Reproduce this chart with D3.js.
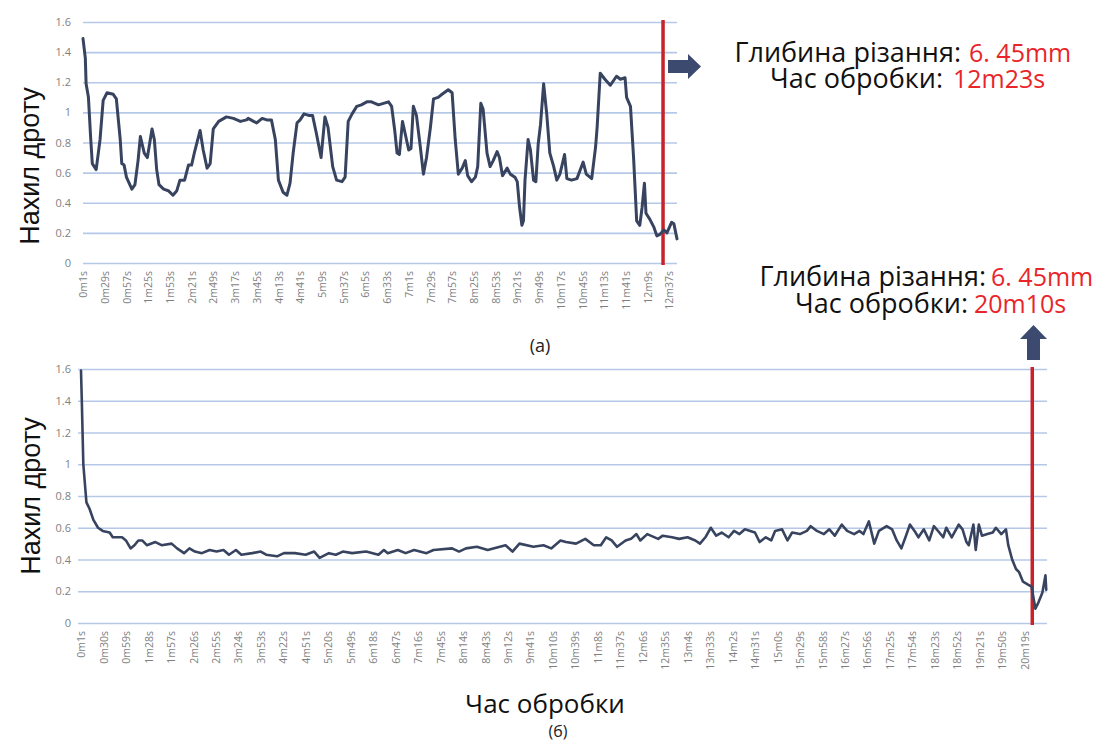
<!DOCTYPE html>
<html><head><meta charset="utf-8">
<script src="https://cdn.jsdelivr.net/npm/d3@7"></script>
<style>body{margin:0;background:#fff}svg{display:block}text{font-family:"Open Sans",sans-serif}</style>
</head><body>
<svg id="c" width="1093" height="743"></svg>
<script>
// ---------- DATA ----------
const yTickValues = [0, 0.2, 0.4, 0.6, 0.8, 1, 1.2, 1.4, 1.6];

const topTickLabels = ["0m1s","0m29s","0m57s","1m25s","1m53s","2m21s","2m49s","3m17s","3m45s","4m13s","4m41s","5m9s","5m37s","6m5s","6m33s","7m1s","7m29s","7m57s","8m25s","8m53s","9m21s","9m49s","10m17s","10m45s","11m13s","11m41s","12m9s","12m37s"];
// time in seconds, wire inclination
const topTime = [1,4,5,8,11,13,18,23,27,32,40,44,49,51,54,57,64,68,72,75,80,84,90,93,96,99,105,111,117,122,126,132,137,141,145,152,156,161,165,169,176,186,195,204,212,214,221,225,232,238,244,249,253,259,264,268,272,277,281,286,292,297,302,308,313,317,323,328,335,339,343,348,354,360,367,373,382,395,399,403,406,409,413,416,421,424,427,431,436,440,444,449,453,459,464,472,477,481,485,490,494,497,502,507,510,514,517,522,526,530,535,538,542,548,552,558,561,564,567,569,571,575,578,582,585,588,591,595,599,603,608,612,616,622,625,631,638,646,650,657,662,664,668,674,681,689,694,700,702,707,711,715,719,722,725,727,732,737,741,745,750,754,760,763,767];
const topSlope = [1.49,1.36,1.19,1.10,0.82,0.66,0.62,0.82,1.08,1.13,1.12,1.09,0.82,0.66,0.65,0.57,0.49,0.52,0.68,0.84,0.73,0.70,0.89,0.82,0.62,0.52,0.49,0.48,0.45,0.48,0.55,0.55,0.65,0.65,0.74,0.88,0.75,0.63,0.66,0.89,0.94,0.97,0.96,0.94,0.95,0.96,0.94,0.93,0.96,0.95,0.95,0.82,0.55,0.47,0.45,0.53,0.73,0.93,0.95,0.99,0.98,0.98,0.86,0.70,0.97,0.90,0.64,0.55,0.54,0.57,0.94,0.99,1.04,1.05,1.07,1.07,1.05,1.07,1.04,0.88,0.73,0.72,0.94,0.87,0.75,0.76,1.04,0.98,0.77,0.59,0.70,0.90,1.09,1.10,1.12,1.15,1.13,0.82,0.59,0.63,0.68,0.58,0.54,0.57,0.64,1.06,1.02,0.73,0.64,0.68,0.74,0.70,0.58,0.63,0.59,0.57,0.54,0.37,0.25,0.28,0.55,0.82,0.75,0.55,0.54,0.79,0.92,1.19,0.99,0.73,0.64,0.55,0.59,0.72,0.56,0.55,0.56,0.67,0.59,0.56,0.77,0.90,1.26,1.22,1.18,1.24,1.22,1.23,1.10,1.04,0.70,0.28,0.25,0.37,0.53,0.33,0.29,0.24,0.18,0.19,0.22,0.20,0.27,0.26,0.16];
const topMarkerTime = 749;

const botTickLabels = ["0m1s","0m30s","0m59s","1m28s","1m57s","2m26s","2m55s","3m24s","3m53s","4m22s","4m51s","5m20s","5m49s","6m18s","6m47s","7m16s","7m45s","8m14s","8m43s","9m12s","9m41s","10m10s","10m39s","11m8s","11m37s","12m6s","12m35s","13m4s","13m33s","14m2s","14m31s","15m0s","15m29s","15m58s","16m27s","16m56s","17m25s","17m54s","18m23s","18m52s","19m21s","19m50s","20m19s"];
const botTime = [1,2,4,8,12,17,23,29,38,42,54,59,65,70,75,80,86,97,105,118,125,134,141,148,157,167,176,185,192,201,208,222,233,240,254,263,277,291,302,309,321,330,339,351,369,385,392,397,410,420,431,447,456,480,489,498,512,526,549,558,567,585,598,608,620,627,640,652,663,672,679,686,693,704,711,718,723,732,746,752,764,773,784,794,800,807,814,821,828,837,844,851,858,865,871,877,885,892,897,906,913,919,929,938,943,951,960,967,974,983,990,999,1006,1011,1018,1025,1031,1041,1048,1054,1060,1066,1071,1077,1082,1089,1096,1102,1109,1114,1118,1125,1134,1139,1144,1147,1153,1156,1160,1164,1171,1178,1182,1189,1195,1198,1203,1208,1212,1217,1224,1228,1233,1237,1242,1246,1247];
const botSlope = [1.59,1.41,1.0,0.76,0.72,0.65,0.60,0.58,0.57,0.54,0.54,0.52,0.47,0.49,0.52,0.52,0.49,0.51,0.49,0.50,0.47,0.44,0.47,0.45,0.44,0.46,0.45,0.46,0.43,0.46,0.43,0.44,0.45,0.43,0.42,0.44,0.44,0.43,0.45,0.41,0.44,0.43,0.45,0.44,0.45,0.43,0.46,0.44,0.46,0.44,0.46,0.44,0.46,0.47,0.45,0.47,0.48,0.46,0.49,0.45,0.50,0.48,0.49,0.47,0.52,0.51,0.50,0.53,0.49,0.49,0.54,0.52,0.48,0.52,0.53,0.56,0.52,0.56,0.53,0.55,0.54,0.53,0.54,0.52,0.50,0.54,0.60,0.55,0.57,0.54,0.58,0.56,0.59,0.58,0.57,0.51,0.54,0.52,0.58,0.59,0.52,0.57,0.56,0.58,0.61,0.58,0.56,0.59,0.55,0.62,0.58,0.56,0.58,0.56,0.64,0.50,0.58,0.61,0.59,0.52,0.47,0.55,0.62,0.58,0.54,0.59,0.52,0.61,0.57,0.54,0.60,0.54,0.62,0.59,0.51,0.49,0.62,0.46,0.62,0.55,0.56,0.57,0.60,0.56,0.59,0.49,0.40,0.34,0.32,0.26,0.24,0.23,0.09,0.13,0.19,0.30,0.21];
const botMarkerTime = 1229;

// ---------- DRAW ----------
const svg = d3.select("#c");
svg.append("rect").attr("width",1093).attr("height",743).attr("fill","#fff");

const lineColor = "#38445f", gridColor = "#b6c8e8", tickColor = "#7f7f7f", red = "#c9232a";
const secOf = s => { const m = s.match(/(\d+)m(\d+)s/); return +m[1]*60 + +m[2]; };
const yFmt = v => String(v);

function panel(cfg) {
  const g = svg.append("g");
  const x = d3.scaleLinear().domain(cfg.xDomain).range(cfg.xRange);
  const y = d3.scaleLinear().domain([0, 1.6]).range(cfg.yRange);

  // gridlines + y labels
  const yAxis = d3.axisLeft(y).tickValues(yTickValues).tickSize(-(cfg.gridEnd - cfg.gridStart)).tickFormat(yFmt);
  const ya = g.append("g").attr("transform", `translate(${cfg.gridStart},0)`).call(yAxis);
  ya.select(".domain").remove();
  ya.selectAll(".tick line").attr("stroke", gridColor).attr("stroke-width", 1.6);
  ya.selectAll(".tick text").attr("fill", tickColor).attr("font-size", 11).attr("x", cfg.yLabelDx);

  // x axis labels
  const xAxis = d3.axisBottom(x).tickValues(cfg.ticks.map(secOf)).tickSize(0)
    .tickFormat((d,i) => cfg.ticks[i]);
  const xa = g.append("g").attr("transform", `translate(0,${cfg.yRange[0]})`).call(xAxis);
  xa.select(".domain").remove();
  xa.selectAll(".tick text").attr("fill", tickColor).attr("font-size", 10.5)
    .attr("transform", "rotate(-90)").attr("text-anchor", "end")
    .attr("x", -8).attr("y", 0).attr("dy", "0.35em");

  // red marker
  g.append("line").attr("x1", x(cfg.marker)).attr("x2", x(cfg.marker))
    .attr("y1", cfg.yRange[1]-2).attr("y2", cfg.yRange[0]+2)
    .attr("stroke", red).attr("stroke-width", 3.5);

  // data line
  const pts = cfg.time.map((t,i) => [t, cfg.vals[i]]);
  g.append("path").datum(pts)
    .attr("d", d3.line().x(d => x(d[0])).y(d => y(d[1])))
    .attr("fill","none").attr("stroke", lineColor).attr("stroke-width", cfg.lw)
    .attr("stroke-linejoin","round").attr("stroke-linecap","round");

  // y title
  g.append("text").attr("transform", `translate(${cfg.titleX},${cfg.titleY}) rotate(-90)`)
    .attr("text-anchor","middle").attr("font-size", 27).attr("fill","#111")
    .style("font-family", "'Liberation Sans', Arial, sans-serif").text("Нахил дроту");
  return {x, y};
}

panel({xDomain:[1,767], xRange:[83,677], gridStart:83, gridEnd:677, yRange:[263,22], ticks: topTickLabels,
  time: topTime, vals: topSlope, marker: topMarkerTime, lw: 3, yLabelDx: -12, titleX: 39, titleY: 166});
panel({xDomain:[1,1248], xRange:[81,1047], gridStart:78, gridEnd:1047, yRange:[623,369], ticks: botTickLabels,
  time: botTime, vals: botSlope, marker: botMarkerTime, lw: 2.6, yLabelDx: -7, titleX: 40, titleY: 496});

// captions
svg.append("text").attr("x",540).attr("y",352).attr("text-anchor","middle").attr("font-size",18).attr("fill","#222").text("(а)");
svg.append("text").attr("x",545).attr("y",713).attr("text-anchor","middle").attr("font-size",26).attr("fill","#111").text("Час обробки");
svg.append("text").attr("x",558).attr("y",737).attr("text-anchor","middle").attr("font-size",16).attr("fill","#222").text("(б)");

// annotations
function note(xBlack1, xRed1, y1, xBlack2, xRed2, y2, depth, time) {
  svg.append("text").attr("x", xBlack1).attr("y", y1).attr("text-anchor","end").attr("font-size",27).attr("fill","#111").text("Глибина різання:");
  svg.append("text").attr("x", xRed1).attr("y", y1).attr("font-size",25).attr("fill","#e8262a").text(depth);
  svg.append("text").attr("x", xBlack2).attr("y", y2).attr("text-anchor","end").attr("font-size",27).attr("fill","#111").text("Час обробки:");
  svg.append("text").attr("x", xRed2).attr("y", y2).attr("font-size",25).attr("fill","#e8262a").text(time);
}
note(961, 969, 62, 943, 953, 88, "6. 45mm", "12m23s");
note(986, 991, 286, 968, 974, 313, "6. 45mm", "20m10s");

// block arrows
const arrowColor = "#3b4a6e";
svg.append("path").attr("fill", arrowColor)
  .attr("d","M668,60 L688,60 L688,54 L701,66.5 L688,79 L688,73 L668,73 Z");
svg.append("path").attr("fill", arrowColor)
  .attr("d","M1027,360 L1027,339 L1020,339 L1033.5,325 L1047,339 L1040,339 L1040,360 Z");
</script>
</body></html>
